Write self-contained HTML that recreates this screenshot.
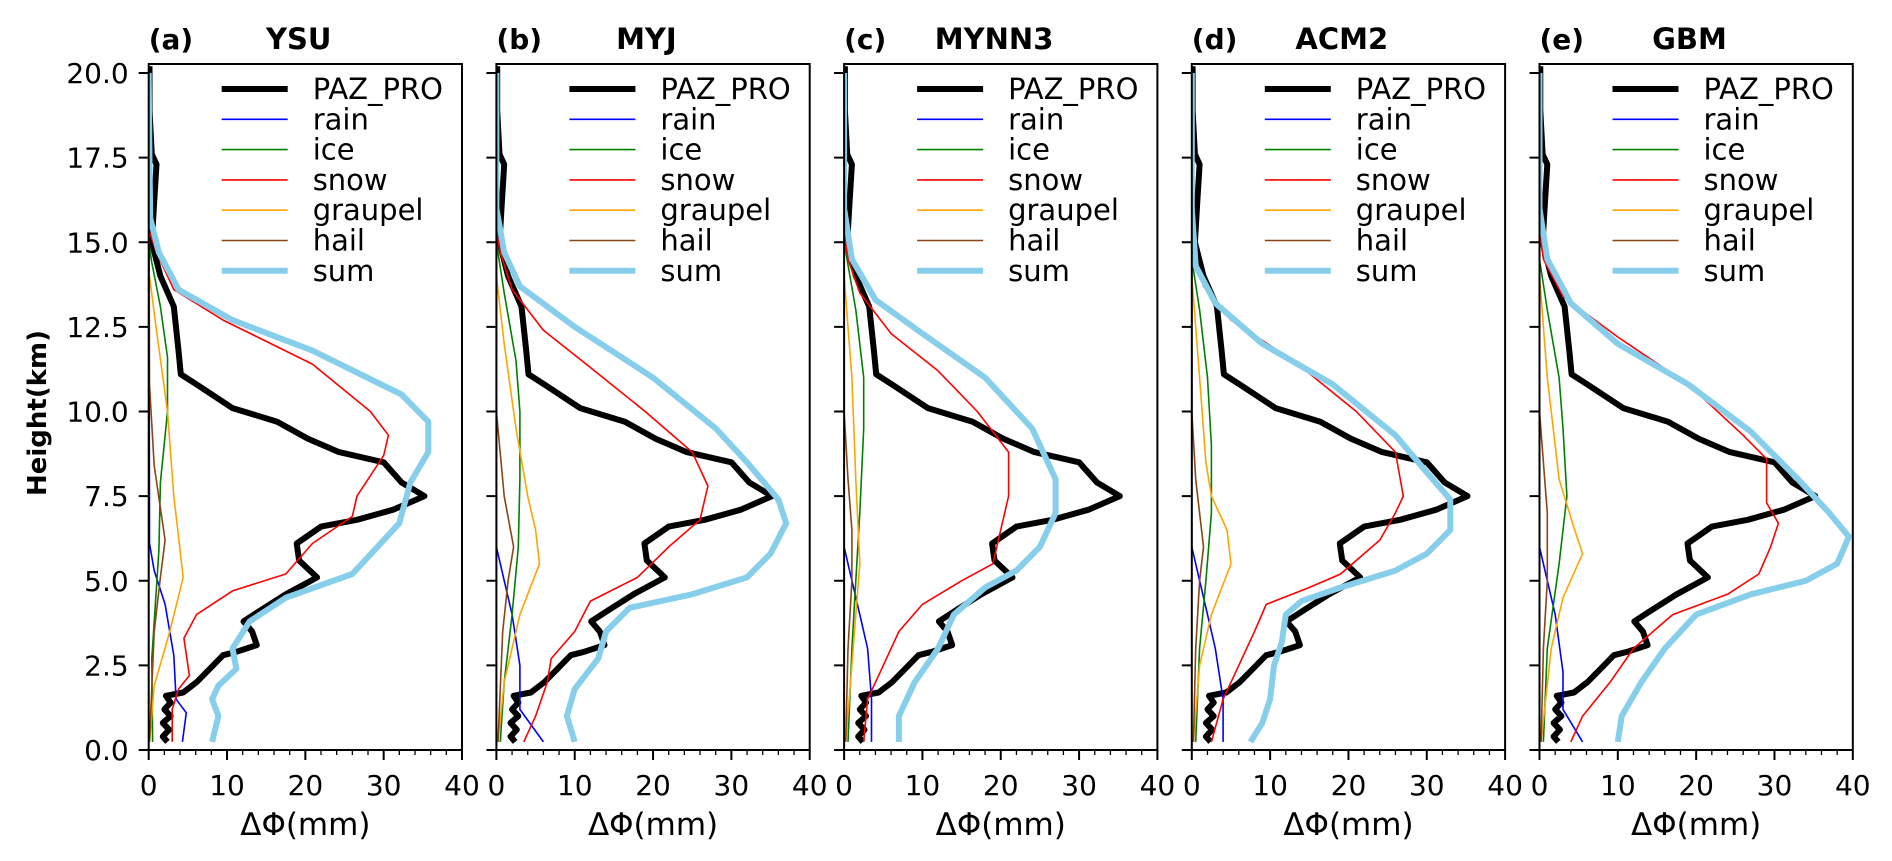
<!DOCTYPE html>
<html><head><meta charset="utf-8"><style>
body{margin:0;background:#fff;}
svg{display:block;font-family:"DejaVu Sans","Liberation Sans",sans-serif;}
</style></head><body>
<svg id="chart" width="1892" height="861" viewBox="0 0 1892 861"></svg>
<script>
const panelTitles = ["YSU","MYJ","MYNN3","ACM2","GBM"];
const panelLetters = ["(a)","(b)","(c)","(d)","(e)"];
const yTicks = [0,2.5,5,7.5,10,12.5,15,17.5,20];
const yTickLabels = ["0.0","2.5","5.0","7.5","10.0","12.5","15.0","17.5","20.0"];
const xTicks = [0,10,20,30,40];
const seriesNames = ["PAZ_PRO","rain","ice","snow","graupel","hail","sum"];

const pazPro = [[0.24,2.4],[0.4,1.8],[0.6,2.6],[0.8,1.8],[1.0,2.8],[1.2,2.0],[1.4,2.8],[1.6,2.2],[1.7,4.4],[2.0,6.1],[2.4,7.8],[2.8,9.5],[2.9,11.2],[3.1,13.8],[3.5,13.2],[3.8,12.1],[4.1,14.1],[4.6,17.5],[5.1,21.5],[5.6,19.2],[6.1,18.9],[6.6,22],[6.8,26.6],[7.1,31.2],[7.5,35.2],[7.9,32.3],[8.5,30],[8.8,24.3],[9.2,20.3],[9.7,16.4],[10.1,10.7],[10.8,6.1],[11.1,4.1],[11.8,3.8],[13.1,3.2],[14.0,1.5],[15.0,0.4],[16.2,0.7],[17.3,1.0],[17.6,0.4],[18.9,0.1],[20.2,0.1]];

const ysuRain = [[0.24,4.3],[1.1,4.8],[1.5,3.5],[2.8,3.2],[4.3,2.1],[5.3,0.7],[6.1,0.1],[20,0]];
const ysuIce = [[0.24,0.5],[2.7,0.4],[5.9,1.3],[7.9,1.5],[10,2.4],[11.6,2.4],[13.1,1.5],[14.4,0.4],[15,0]];
const ysuSnow = [[0.24,3],[1.2,3],[1.8,3.8],[2.2,5.2],[3.3,4.5],[4.0,6.1],[4.7,10.7],[5.2,17.5],[6.1,20.9],[6.9,26],[7.5,26.6],[8.7,30],[9.3,30.6],[10,28.3],[11.4,20.9],[12.7,9.5],[13.6,3.2],[14.7,1],[15.3,0.1]];
const ysuGraupel = [[0.24,0.1],[1.9,0.7],[3.5,2.7],[5.1,4.4],[7.5,3.2],[10,2.4],[12.4,1],[14,0.1]];
const ysuHail = [[0.24,0.1],[3.5,0.7],[5.1,1.5],[6.2,2.1],[8.4,0.7],[10.8,0.1],[20,0]];
const ysuSum = [[0.24,8.1],[1.0,8.9],[1.5,8.1],[1.9,8.9],[2.4,11.2],[3.0,10.7],[3.8,12.9],[4.5,17.5],[5.2,26],[5.9,28.8],[6.7,32],[7.9,33.4],[8.8,35.7],[9.7,35.7],[10.5,32.3],[11.8,20.9],[12.7,10.7],[13.6,3.8],[14.7,1.3],[15.7,0.2],[17.3,0.1],[20,0]];

const myjRain = [[0.24,6],[1.2,3],[2.5,3],[4,2],[5.5,0.5],[6,0],[20,0]];
const myjIce = [[0.24,0.5],[2,1],[4,2],[6,2.8],[8,3],[10,3],[11.5,2.5],[13.5,1],[15,0]];
const myjSnow = [[0.24,3.5],[1,5],[2,6.5],[2.7,7],[3.5,10],[4.4,12],[5.1,18],[6,22],[6.8,26],[7.8,27],[8.8,25],[10,19],[11.3,12],[12.4,6],[13.6,2],[14.7,0.5],[15.3,0]];
const myjGraupel = [[0.24,0.2],[2,1],[4,3],[5.5,5.5],[6.5,5],[7.5,4],[9.5,2.5],[12,1],[14,0]];
const myjHail = [[0.24,0.2],[3.5,0.8],[5,1.5],[6,2.2],[7.5,1],[10,0],[20,0]];
const myjSum = [[0.24,10],[1,9],[1.8,10],[2.7,13],[3.5,14],[4.2,17],[4.6,25],[5.1,32],[5.8,35],[6.7,37],[7.4,36],[8.5,32],[9.5,28],[11,20],[12.5,10],[13.7,3],[14.7,1],[16,0],[20,0]];

const mynnRain = [[0.24,3.5],[1.5,3.5],[3,3],[4,2],[5.5,0.5],[6,0],[20,0]];
const mynnIce = [[0.24,0.5],[3,1],[5,1.5],[7,2],[9.5,2.5],[11,2.5],[13,1.5],[15,0]];
const mynnSnow = [[0.24,2.5],[1.5,3],[2.5,5],[3.5,7],[4.3,10],[5,15],[5.5,19],[6.5,20],[7.5,21],[8.8,21],[10,17],[11.2,12],[12.3,6],[13.5,2],[14.5,0.5],[15.3,0]];
const mynnGraupel = [[0.24,0.2],[2.5,1],[4,1.5],[5.5,2],[8,1.5],[11,1],[14,0]];
const mynnHail = [[0.24,0.2],[3,0.5],[5,1],[6.5,1],[8,0.5],[10,0],[20,0]];
const mynnSum = [[0.24,7],[1,7],[2,9],[3,12],[4,14],[4.8,18],[5.3,22],[6,25],[7,27],[8,27],[9.5,24],[11,18],[12.3,10],[13.3,4],[14.5,1],[16,0],[20,0]];

const acmRain = [[0.24,4],[1.5,4],[3,3],[4,2],[5.5,0.5],[6,0],[20,0]];
const acmIce = [[0.24,0.5],[3,1],[5,1.8],[7,2.5],[9,2.5],[11,2],[13,1],[14.5,0]];
const acmSnow = [[0.24,2.5],[1.5,4],[2.5,6],[3.5,8],[4.3,9.5],[4.8,15],[5.2,19],[6.2,24],[7,26],[7.5,27],[8.8,26],[10,21],[11.5,13],[12.7,5],[13.7,1.5],[15,0]];
const acmGraupel = [[0.24,0.2],[2.5,1],[4,2.5],[5.5,5],[6.5,4.5],[7.5,2.5],[8.5,1.8],[11,1],[14,0]];
const acmHail = [[0.24,0.2],[3,0.5],[5,1],[6,1.5],[8,0.5],[10,0],[20,0]];
const acmSum = [[0.24,7.5],[0.8,9],[1.5,10],[2.5,10.5],[3.2,11.5],[4,12],[4.4,14],[4.8,19],[5.3,26],[5.8,30],[6.5,33],[7.4,33],[8.2,30],[9.3,26],[10.8,18],[12,9],[13.2,3],[14.3,0.5],[16,0],[20,0]];

const gbmRain = [[0.24,5.5],[1.2,3],[2.3,3],[4,2],[5.5,0.5],[6,0],[20,0]];
const gbmIce = [[0.24,0.5],[3,1],[5.5,2.5],[7.5,3.5],[9.5,3],[11,2.5],[13,1],[14.5,0]];
const gbmSnow = [[0.24,4],[1,5.5],[2,9],[3,12],[4,17],[4.6,24],[5.2,28],[6,29.5],[6.7,30.5],[7.3,29],[8.6,29],[9.3,26],[10.8,19],[12.2,10],[13.4,3],[14.5,0.5],[15.3,0]];
const gbmGraupel = [[0.24,0.2],[3,1.5],[4.5,3],[5.8,5.5],[6.5,4.5],[8,2.5],[11,1],[14,0]];
const gbmHail = [[0.24,0.2],[3,0.5],[5,1],[7,1],[8.5,0.5],[10,0],[20,0]];
const gbmSum = [[0.24,10],[1,10.5],[2,13],[3,16],[4,20],[4.6,27],[5,34],[5.5,38],[6.3,39.5],[7,37],[8,33],[9.4,27],[10.8,19],[12,10],[13.2,4],[14.5,1],[16,0],[20,0]];

const panelSeries = [
 [ysuRain,ysuIce,ysuSnow,ysuGraupel,ysuHail,ysuSum],
 [myjRain,myjIce,myjSnow,myjGraupel,myjHail,myjSum],
 [mynnRain,mynnIce,mynnSnow,mynnGraupel,mynnHail,mynnSum],
 [acmRain,acmIce,acmSnow,acmGraupel,acmHail,acmSum],
 [gbmRain,gbmIce,gbmSnow,gbmGraupel,gbmHail,gbmSum]
];

const NS="http://www.w3.org/2000/svg";
const svg=document.getElementById('chart');
const colors=["#000000","#0000ff","#008000","#ff0000","#ffa500","#8b4513","#87ceeb"];
const widths=[6,1.6,1.6,1.6,1.6,1.6,6];
const P0=148.7, PW=313.3, PITCH=347.7, Y0=750, PXKM=33.85, AXTOP=64;
function yS(h){return Y0-h*PXKM;}
function mk(tag,attrs,parent){const e=document.createElementNS(NS,tag);for(const k in attrs)e.setAttribute(k,attrs[k]);(parent||svg).appendChild(e);return e;}

panelTitles.forEach((t,i)=>{
  const L=P0+i*PITCH;
  const xS=v=>L+v/40*PW;
  const g=mk('g',{});
  
  
  const clipId='clip'+i;
  const cp=mk('clipPath',{id:clipId},g);
  mk('rect',{x:L,y:AXTOP,width:PW,height:Y0-AXTOP},cp);
  const all=[pazPro].concat(panelSeries[i]);
  all.forEach((s,k)=>{
    const d=s.map((p,j)=>(j?'L':'M')+xS(p[1]).toFixed(1)+','+yS(p[0]).toFixed(1)).join('');
    const path=mk('path',{d:d,fill:'none',stroke:colors[k],'stroke-width':widths[k],'stroke-linejoin':'round','clip-path':'url(#'+clipId+')'},g);
    
    
  });
  const fr=mk('rect',{x:L,y:AXTOP,width:PW,height:Y0-AXTOP,fill:'none',stroke:'#000','stroke-width':2},g);
  
  
  yTicks.forEach((v,j)=>{
    mk('line',{x1:L-10,x2:L,y1:yS(v),y2:yS(v),stroke:'#000','stroke-width':2},g);
    if(i===0){
      const tx=mk('text',{x:L-20,y:yS(v)+10,'text-anchor':'end','font-size':28,fill:'#000'},g);
      tx.textContent=yTickLabels[j];
      
      
    }
  });
  for(let v=0;v<=40;v+=2){
    const major=v%10===0;
    mk('line',{x1:xS(v),x2:xS(v),y1:Y0,y2:Y0+(major?10:5),stroke:'#000','stroke-width':major?2:1.3},g);
  }
  xTicks.forEach(v=>{
    const tx=mk('text',{x:xS(v),y:795,'text-anchor':'middle','font-size':28,fill:'#000'},g);
    tx.textContent=String(v);
    
    
  });
  const xl=mk('text',{x:L+PW/2,y:835,'text-anchor':'middle','font-size':31,fill:'#000'},g);
  xl.textContent='ΔΦ(mm)';
  
  
  const lt=mk('text',{x:L,y:49,'font-size':28,'font-weight':'bold',fill:'#000'},g);
  lt.textContent=panelLetters[i];
  
  
  const tt=mk('text',{x:L+150,y:49,'text-anchor':'middle','font-size':29,'font-weight':'bold',fill:'#000'},g);
  tt.textContent=t;
  
  
  const lg=mk('g',{},g);
  
  
  seriesNames.forEach((n,k)=>{
    const yy=89+k*30.3;
    mk('line',{x1:L+73,x2:L+139,y1:yy,y2:yy,stroke:colors[k],'stroke-width':k===0||k===6?6:1.6},lg);
    const te=mk('text',{x:L+164,y:yy+10,'font-size':29,fill:'#000'},lg);
    te.textContent=n;
    
    
  });
});
const yl=mk('text',{x:0,y:0,transform:'translate(46,413) rotate(-90)','text-anchor':'middle','font-size':26,'font-weight':'bold',fill:'#000'});
yl.textContent='Height(km)';


</script>
</body></html>
